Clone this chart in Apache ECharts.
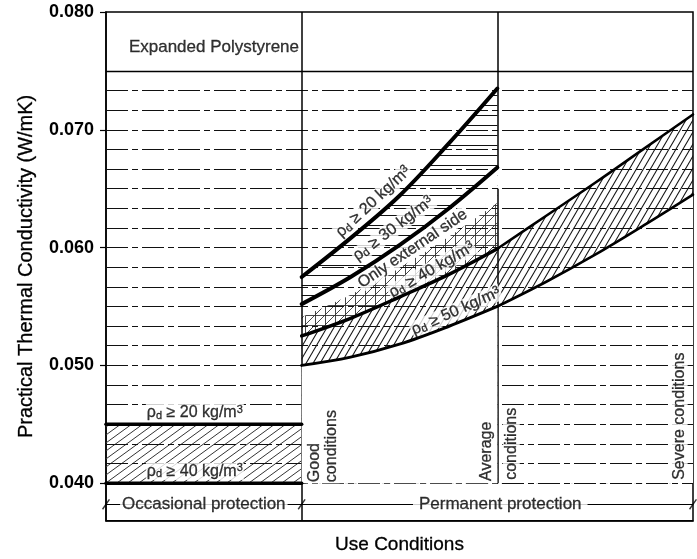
<!DOCTYPE html>
<html>
<head>
<meta charset="utf-8">
<script src="https://cdn.jsdelivr.net/npm/echarts@6/dist/echarts.min.js"></script>
<style>
  html, body { margin: 0; padding: 0; background: #fff; }
  #chart { width: 697px; height: 559px; }
</style>
</head>
<body>
<div id="chart"></div>
<script>
// ---- data -------------------------------------------------------------
// x axis: 0–1 occasional protection, 1–2 good → average, 2–3 average → severe
const yTicks = [0.040, 0.050, 0.060, 0.070, 0.080];

// occasional protection: constant design values
const occX = [0, 1];
const occRho20 = [0.045, 0.045];
const occRho40 = [0.040, 0.040];

// permanent protection, good → average conditions
const permX = [1, 1.25, 1.5, 1.75, 2];
const rho20 = [0.0575, 0.0608, 0.0644, 0.0688, 0.0735];
const rho30 = [0.0552, 0.0575, 0.0602, 0.0633, 0.0668];
const extSide = [0.0541, 0.0560, 0.0583, 0.0609, 0.0638];
const rho40 = [0.0525, 0.0540, 0.0558, 0.0577, 0.0599];
const rho50 = [0.0500, 0.0507, 0.0518, 0.0533, 0.0550];

// permanent protection, average → severe conditions
const sevX = [2, 2.25, 2.5, 2.75, 3];
const sevUpper = [0.0599, 0.0627, 0.0655, 0.0684, 0.0713];
const sevLower = [0.0550, 0.0571, 0.0594, 0.0619, 0.0645];

// ruled background lines and the header rule
const ruleLevels = [0.04000, 0.04167, 0.04333, 0.04500, 0.04667, 0.04833, 0.05000,
  0.05167, 0.05333, 0.05500, 0.05667, 0.05833, 0.06000, 0.06167, 0.06333, 0.06500,
  0.06667, 0.06833, 0.07000, 0.07167, 0.07333];
const headerRule = 0.075;

// column dividers: [x, from, to]
const dividers = [[1, 0.0368, 0.080], [2, 0.0668, 0.080], [2, 0.040, 0.065]];
const stripLevel = 0.0382;
const stripTicks = [0, 1, 3];

// ---- styling helpers ----------------------------------------------------
const FONT = "'Liberation Sans', Arial, Helvetica, sans-serif";
const INK = '#111';

function pattern(w, h, draw) {
  const c = document.createElement('canvas');
  c.width = w; c.height = h;
  const g = c.getContext('2d');
  draw(g, w, h);
  return { image: c, repeat: 'repeat' };
}
function diag(g, w, h) {
  for (let k = -1; k <= 1; k++) {
    g.beginPath();
    g.moveTo(k * w - 1, h + h / w);
    g.lineTo(k * w + w + 1, -h / w);
    g.stroke();
  }
}
const hatchSteep = pattern(7, 12, (g, w, h) => { g.strokeStyle = INK; g.lineWidth = 1.1; diag(g, w, h); });
const hatchLight = pattern(11, 8, (g, w, h) => { g.strokeStyle = '#333'; g.lineWidth = 1; diag(g, w, h); });
const hatchHoriz = pattern(4, 10, (g, w, h) => {
  g.strokeStyle = INK; g.lineWidth = 1; g.beginPath(); g.moveTo(0, 5.5); g.lineTo(w, 5.5); g.stroke();
});
const hatchCross = pattern(10, 10, (g, w, h) => {
  g.strokeStyle = '#333'; g.lineWidth = 0.9; diag(g, w, h);
  g.beginPath(); g.moveTo(0, 5.5); g.lineTo(w, 5.5); g.stroke();
  g.beginPath(); g.moveTo(5.5, 0); g.lineTo(5.5, h); g.stroke();
});

const pair = (xs, ys) => xs.map((x, i) => [x, ys[i]]);

function band(xs, ys, fill, z) {
  return {
    type: 'line', data: pair(xs, ys), smooth: 0.35, showSymbol: false, silent: true, z: z,
    lineStyle: { width: 0, opacity: 0 },
    areaStyle: { color: fill, opacity: 1, origin: 0.040 }
  };
}
function curve(xs, ys, width) {
  return {
    type: 'line', data: pair(xs, ys), smooth: 0.35, showSymbol: false, silent: true, z: 12,
    lineStyle: { color: '#000', width: width, cap: 'round' }
  };
}

const ink = { color: '#000', fontFamily: FONT, textBorderColor: '#000', textBorderWidth: 0.3 };
const rich = {
  t: Object.assign({ fontSize: 16, lineHeight: 17 }, ink),
  s: Object.assign({ fontSize: 11, lineHeight: 8, verticalAlign: 'bottom' }, ink),
  p: Object.assign({ fontSize: 11, lineHeight: 8, verticalAlign: 'top' }, ink),
  h: Object.assign({ fontSize: 17 }, ink),
  b: Object.assign({ fontSize: 17, lineHeight: 20 }, ink)
};
const rho = (n) => `{t|ρ}{s|d}{t| ≥ ${n} kg/m}{p|3}`;

// annotation layout (data coordinates)
const notes = [
  { text: '{h|Expanded Polystyrene}', at: [0.112, 0.0770], align: 'left' },
  { text: rho(20), at: [0.454, 0.0460], bg: true },
  { text: rho(40), at: [0.454, 0.0410], bg: true },
  { text: rho(20), at: [1.366, 0.0639], rotate: 43, bg: true },
  { text: rho(30), at: [1.468, 0.0616], rotate: 37, bg: true },
  { text: '{t|Only external side}', at: [1.567, 0.0599], rotate: 34, bg: true },
  { text: rho(40), at: [1.665, 0.0581], rotate: 30, bg: true },
  { text: rho(50), at: [1.789, 0.0546], rotate: 24, bg: true },
  { text: '{t|Good}\n{t|conditions}', at: [1.107, 0.0400], rotate: 90, align: 'left', bg: true },
  { text: '{t|Average}', at: [1.944, 0.0401], rotate: 90, align: 'left', bg: true },
  { text: '{t|conditions}', at: [2.071, 0.0402], rotate: 90, align: 'left', bg: true },
  { text: '{t|Severe conditions}', at: [2.929, 0.0402], rotate: 90, align: 'left', bg: true },
  { text: '{b|Occasional protection}', at: [0.5, stripLevel], bg: true, pad: [0, 2] },
  { text: '{b|Permanent protection}', at: [2.015, stripLevel], bg: true, pad: [0, 6] }
];

const chart = echarts.init(document.getElementById('chart'), null, { renderer: 'canvas' });

const solid = (w) => ({ type: 'solid', width: w, color: '#000' });
const hLine = (v, style) => [{ coord: [0, v], lineStyle: style }, { coord: [3, v] }];
const ruleLines = ruleLevels.map(v => hLine(v))
  .concat([hLine(headerRule, solid(1.4)), hLine(stripLevel, solid(1.1))])
  .concat(dividers.map(d => [{ coord: [d[0], d[1]], lineStyle: solid(1.5) }, { coord: [d[0], d[2]] }]));

chart.setOption({
  animation: false,
  backgroundColor: '#fff',
  grid: { left: 106, right: 4, top: 12, bottom: 37, show: true, borderColor: '#000', borderWidth: 1.5 },
  xAxis: {
    type: 'value', min: 0, max: 3,
    axisLine: { show: true, lineStyle: { color: '#000', width: 1.5 } },
    axisTick: { show: false }, axisLabel: { show: false }, splitLine: { show: false },
    name: 'Use Conditions', nameLocation: 'middle', nameGap: 14,
    nameTextStyle: { fontSize: 19, fontFamily: FONT, color: '#000', textBorderColor: '#000', textBorderWidth: 0.3 }
  },
  yAxis: {
    type: 'value', min: 0.0368, max: 0.080,
    axisLine: { show: true, lineStyle: { color: '#000', width: 1.5 } },
    axisTick: { show: true, customValues: yTicks, length: 6, lineStyle: { color: '#000', width: 1.2 } },
    axisLabel: {
      customValues: yTicks, formatter: v => v.toFixed(3), margin: 12,
      fontSize: 18, fontWeight: 'bold', fontFamily: FONT, color: '#000'
    },
    splitLine: { show: false },
    name: 'Practical Thermal Conductivity (W/mK)', nameLocation: 'middle', nameGap: 70,
    nameTextStyle: { fontSize: 20, fontFamily: FONT, color: '#000', textBorderColor: '#000', textBorderWidth: 0.3 }
  },
  series: [
    // filled zones (white layers mask the zone underneath)
    band(occX, occRho20, hatchLight, 1),
    band(permX, rho20, hatchHoriz, 1),
    band(permX, rho30, '#fff', 2),
    band(permX, extSide, hatchCross, 3),
    band(permX, rho40, '#fff', 4),
    band(permX, rho40, hatchSteep, 5),
    band(permX, rho50, '#fff', 6),
    band(sevX, sevUpper, hatchSteep, 1),
    band(sevX, sevLower, '#fff', 2),
    // ruling, dividers and the bottom strip
    {
      type: 'line', data: [], silent: true, z: 10,
      markLine: {
        silent: true, symbol: 'none', label: { show: false },
        lineStyle: { color: '#111', width: 1.1, type: [22, 4, 6, 4] },
        data: ruleLines
      }
    },
    {
      type: 'scatter', silent: true, z: 14, data: stripTicks.map(x => [x, stripLevel]),
      symbol: 'rect', symbolSize: [1.4, 12], symbolRotate: -35, itemStyle: { color: '#000' }
    },
    // design curves
    curve(occX, occRho20, 3.5),
    curve(occX, occRho40, 3.5),
    curve(permX, rho20, 4),
    curve(permX, rho30, 4),
    curve(permX, rho40, 3.5),
    curve(permX, rho50, 3),
    curve(sevX, sevUpper, 2.6),
    curve(sevX, sevLower, 2.6),
    // annotations
    {
      type: 'scatter', silent: true, z: 11, symbolSize: 1,
      itemStyle: { color: 'rgba(0,0,0,0)' },
      data: notes.map(n => ({
        value: n.at,
        label: {
          show: true, position: 'inside', formatter: n.text, rich: rich,
          rotate: n.rotate || 0, align: n.align || 'center', verticalAlign: 'middle',
          backgroundColor: n.bg ? '#fff' : 'transparent', padding: n.pad || [0, 1]
        }
      }))
    }
  ]
});
</script>
</body>
</html>
